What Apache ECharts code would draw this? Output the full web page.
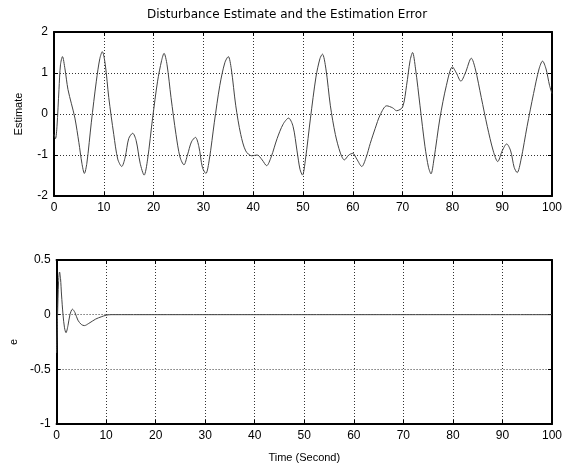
<!DOCTYPE html>
<html><head><meta charset="utf-8">
<script src="https://cdn.jsdelivr.net/npm/echarts@6/dist/echarts.min.js"></script>
<style>html,body{margin:0;padding:0;background:#fff}#c{width:574px;height:473px}</style>
</head><body><div id="c"></div>
<script>
const titleText = 'Disturbance Estimate and the Estimation Error';
const xTicks = [0,10,20,30,40,50,60,70,80,90,100];
const estimateX = [0,0.3,0.6,1.0,1.3,1.7,2.2,2.8,3.5,4.2,5.0,5.6,6.1,6.6,7.5,8.5,9.2,9.7,10.3,11.0,12.0,12.8,13.6,14.3,15.0,15.8,16.5,17.3,18.1,18.8,19.8,20.8,21.6,22.1,22.7,23.5,24.5,25.3,26.1,26.8,27.6,28.4,29.1,29.8,30.5,31.2,32.2,33.3,34.3,35.0,35.6,36.5,37.5,38.5,39.7,40.8,41.8,42.7,43.6,44.8,46.0,47.1,48.0,48.8,49.4,49.9,50.5,51.5,52.6,53.4,53.9,54.6,55.5,56.5,57.5,58.3,59.2,60.0,60.8,61.8,62.7,63.5,64.5,65.5,66.8,68.0,68.8,70.0,70.8,71.5,72.0,72.6,73.5,74.5,75.2,75.7,76.3,77.5,78.8,80.0,80.8,81.7,82.6,83.8,84.6,85.8,87.0,88.2,89.1,90.0,90.9,91.7,92.4,93.0,93.8,95.0,96.3,97.4,98.1,98.8,99.5,100];
const estimateY = [-0.5,-0.6,-0.3,0.6,1.2,1.40,1.1,0.6,0.25,-0.1,-0.7,-1.2,-1.45,-1.2,-0.2,0.8,1.35,1.52,1.2,0.4,-0.5,-1.1,-1.28,-1.05,-0.6,-0.47,-0.65,-1.2,-1.49,-1.1,-0.1,0.8,1.3,1.48,1.2,0.4,-0.5,-1.05,-1.24,-1.0,-0.68,-0.57,-0.8,-1.3,-1.45,-1.1,-0.2,0.7,1.25,1.40,1.1,0.2,-0.5,-0.9,-1.02,-1.0,-1.12,-1.26,-1.05,-0.6,-0.25,-0.10,-0.3,-0.9,-1.35,-1.49,-1.1,-0.1,0.9,1.35,1.46,1.1,0.2,-0.5,-0.95,-1.12,-1.0,-0.96,-1.1,-1.28,-1.05,-0.72,-0.35,-0.02,0.20,0.15,0.08,0.17,0.7,1.3,1.50,1.1,0.2,-0.8,-1.3,-1.46,-1.1,-0.1,0.7,1.15,1.0,0.80,1.0,1.36,1.1,0.4,-0.3,-0.9,-1.16,-0.9,-0.73,-0.9,-1.3,-1.43,-1.1,-0.3,0.5,1.1,1.29,1.1,0.7,0.5];
const errorX = [0,0.2,0.4,0.6,0.8,1.0,1.3,1.6,1.9,2.3,2.7,3.2,3.7,4.3,5.0,5.6,6.5,7.9,9.0,10.0,11,20,30,40,50,60,70,80,90,100];
const errorY = [-0.35,0.0,0.3,0.39,0.33,0.18,0.0,-0.12,-0.165,-0.1,0.0,0.05,0.02,-0.05,-0.09,-0.10,-0.08,-0.04,-0.02,-0.005,0,0,0,0,0,0,0,0,0,0];

const FONT = 'Liberation Sans, Arial, sans-serif';
const lab = {color:'#000', fontFamily:FONT, fontSize:12};
function common(show){
  return {
    axisLine:{show:true, onZero:false, lineStyle:{color:'#000', width:2}},
    axisTick:{show:true, inside:true, length:4, lineStyle:{color:'#000', width:1}},
    axisLabel:{show:show, margin:6, ...lab},
    splitLine:{show:show, lineStyle:{type:[1,2], color:'#333', width:1}}};
}
function xa(grid, pos, show){
  return {type:'value', gridIndex:grid, position:pos, min:0, max:100, interval:10, ...common(show)};
}
function ya(grid, pos, show, min, max, interval){
  return {type:'value', gridIndex:grid, position:pos, min:min, max:max, interval:interval, ...common(show)};
}
const xb = xa(1,'bottom',true);
xb.name = 'Time (Second)'; xb.nameLocation='middle'; xb.nameGap=28; xb.nameTextStyle={...lab, fontSize:11};
const yt = ya(0,'left',true,-2,2,1);
yt.name='Estimate'; yt.nameLocation='middle'; yt.nameGap=30; yt.nameTextStyle={...lab, fontSize:11};
const yb = ya(1,'left',true,-1,0.5,0.5);
yb.name='e'; yb.nameLocation='middle'; yb.nameGap=30; yb.nameTextStyle={...lab, fontSize:11};

const chart = echarts.init(document.getElementById('c'), null, {renderer:'canvas'});
chart.setOption({
  animation:false,
  backgroundColor:'#fff',
  title:{text:titleText, left:'center', top:4, textStyle:{color:'#000', fontFamily:'DejaVu Sans, sans-serif', fontSize:12, fontWeight:'normal'}},
  grid:[{left:54, top:32, width:498, height:164},{left:54, top:260, width:498, height:164}],
  xAxis:[xa(0,'bottom',true), xa(0,'top',false), xb, xa(1,'top',false)],
  yAxis:[yt, ya(0,'right',false,-2,2,1), yb, ya(1,'right',false,-1,0.5,0.5)],
  series:[
    {type:'line', xAxisIndex:0, yAxisIndex:0, data:estimateX.map((x,i)=>[x,estimateY[i]]), smooth:0.3, showSymbol:false, lineStyle:{color:'#444', width:1}},
    {type:'line', xAxisIndex:2, yAxisIndex:2, data:errorX.map((x,i)=>[x,errorY[i]]), smooth:0.3, showSymbol:false, lineStyle:{color:'#444', width:1}}
  ]
});
</script></body></html>
